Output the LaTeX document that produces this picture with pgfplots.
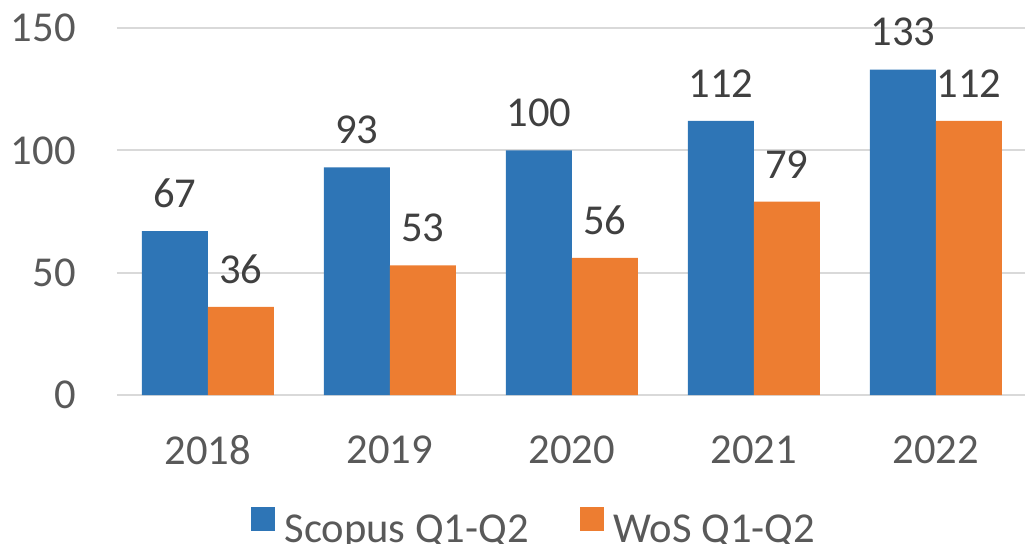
\documentclass[border=0pt]{standalone}
\usepackage{pgfplots}
\pgfplotsset{compat=1.18}
\usepackage{fontspec}
\setmainfont{Carlito}
\definecolor{sblue}{HTML}{2E75B6}
\definecolor{sorange}{HTML}{ED7D31}
\definecolor{tgray}{HTML}{595959}
\definecolor{lgray}{HTML}{404040}
\definecolor{ggray}{HTML}{D9D9D9}
\newcommand{\bigf}{\fontsize{21.3}{25}\selectfont}
\begin{document}
\begin{tikzpicture}
\path[use as bounding box] (-58.5pt,-74pt) rectangle (454pt,197.5pt);
\begin{axis}[
  at={(0pt,0pt)}, anchor=south west,
  width=454pt, height=183.5pt, scale only axis,
  xmin=-0.5, xmax=4.49, ymin=0, ymax=150,
  ybar=0pt, bar width=33pt,
  xtick={0,1,2,3,4}, xticklabels={2018,2019,2020,2021,2022},
  ytick={0,50,100,150},
  ymajorgrids, grid style={ggray, line width=1pt},
  axis lines*=left,
  y axis line style={draw=none},
  x axis line style={ggray, line width=1pt, -},
  major tick length=0pt,
  tick style={draw=none},
  /pgf/number format/assume math mode=true,
  tick label style={font=\bigf, text=tgray},
  yticklabel style={anchor=east, inner sep=0pt, xshift=-20.5pt},
  xticklabel style={anchor=north, inner sep=0pt, yshift=-20pt},
  nodes near coords,
  nodes near coords style={font=\bigf, text=lgray, anchor=south, inner sep=0pt, yshift=11.5pt},
  clip=false,
  legend columns=2,
  legend image code/.code={\fill[#1] (0pt,0pt) rectangle (12pt,12pt);},
  legend style={at={(0.458,-0.354)}, anchor=center, draw=none, fill=none,
    font=\bigf, text=tgray,
    nodes={inner sep=0pt, text height=12pt, text depth=0pt},
    column sep=5pt,
    /tikz/every even column/.append style={column sep=25.5pt}},
]
\addplot[fill=sblue, draw=none] coordinates {(0,67) (1,93) (2,100) (3,112) (4,133)};
\addplot[fill=sorange, draw=none] coordinates {(0,36) (1,53) (2,56) (3,79) (4,112)};
\legend{Scopus Q1-Q2, WoS Q1-Q2}
\end{axis}
\end{tikzpicture}
\end{document}
